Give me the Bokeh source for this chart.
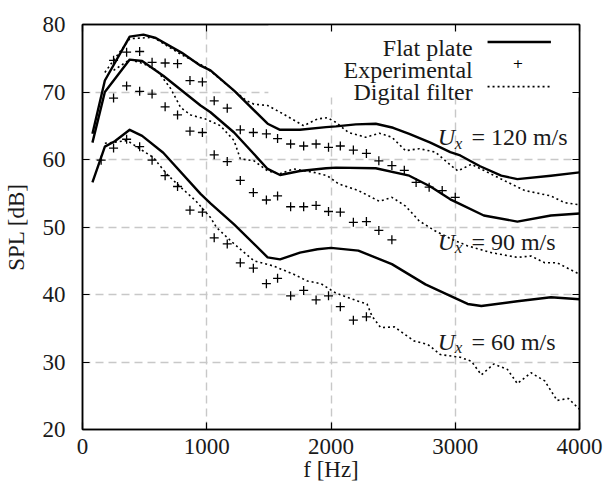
from bokeh.plotting import figure
from bokeh.models import FixedTicker, LinearAxis, Label, BoxAnnotation, Arrow, Range1d
from bokeh.embed import file_html
from bokeh.resources import INLINE

# ---------------- data ----------------
x_ticks = [0, 1000, 2000, 3000, 4000]
y_ticks = [20, 30, 40, 50, 60, 70, 80]

# Flat plate (solid)
fp_f_120 = [80, 180, 380, 490, 590, 800, 950, 1030, 1220, 1490, 1590, 1750, 1960, 2040, 2200, 2360, 2500, 2630, 2800, 2960, 3040, 3200, 3370, 3500, 3770, 4000]
fp_120 = [63.8, 71.7, 78.2, 78.5, 78.0, 75.8, 73.9, 73.2, 70.2, 65.3, 64.4, 64.4, 64.8, 64.9, 65.2, 65.3, 64.7, 63.8, 62.5, 61.1, 60.6, 59.0, 57.6, 57.1, 57.6, 58.1]
fp_f_90 = [80, 180, 380, 480, 650, 950, 1030, 1220, 1490, 1590, 1750, 1960, 2040, 2360, 2630, 2800, 2960, 3040, 3230, 3500, 3770, 4000]
fp_90 = [62.5, 70.0, 74.8, 74.6, 72.4, 68.0, 67.0, 64.0, 58.6, 57.7, 58.3, 58.7, 58.8, 58.7, 57.6, 56.0, 54.1, 53.4, 51.7, 50.8, 51.7, 52.0]
fp_f_60 = [80, 180, 260, 380, 480, 650, 950, 1030, 1220, 1490, 1590, 1750, 1890, 2000, 2220, 2490, 2760, 2960, 3100, 3210, 3500, 3770, 4000]
fp_60 = [56.6, 61.9, 62.7, 64.4, 63.5, 61.0, 54.9, 53.5, 50.4, 45.5, 45.2, 46.2, 46.7, 46.9, 46.5, 44.5, 41.5, 39.8, 38.6, 38.3, 39.0, 39.6, 39.3]

# Experimental (+)
exp_f_120 = [250, 355, 460, 560, 665, 765, 865, 965, 1060, 1165, 1270, 1375, 1480, 1570, 1675, 1780, 1880, 1980, 2075, 2180, 2285, 2385, 2490, 2590, 2685, 2790, 2895, 3000]
exp_120 = [74.7, 75.9, 76.0, 74.4, 74.3, 74.2, 71.7, 71.5, 68.7, 67.6, 64.4, 64.0, 63.8, 63.1, 62.3, 62.0, 62.3, 61.8, 62.0, 61.4, 60.9, 59.8, 59.1, 58.4, 56.6, 55.9, 55.4, 54.4]
exp_f_90 = [250, 355, 460, 560, 665, 765, 865, 965, 1060, 1165, 1270, 1375, 1480, 1570, 1675, 1780, 1880, 1980, 2075, 2180, 2285, 2385, 2490]
exp_90 = [69.1, 70.9, 70.1, 69.7, 67.8, 66.6, 64.2, 64.0, 60.7, 59.7, 56.9, 55.1, 54.0, 54.6, 53.0, 53.0, 53.2, 52.3, 52.2, 50.7, 50.8, 49.5, 48.1]
exp_f_60 = [150, 250, 355, 460, 560, 665, 765, 865, 965, 1060, 1165, 1270, 1375, 1480, 1570, 1675, 1780, 1880, 1980, 2075, 2180, 2285]
exp_60 = [59.9, 61.7, 63.0, 61.9, 59.9, 57.6, 56.0, 52.5, 52.2, 48.4, 47.5, 44.7, 43.9, 41.6, 42.4, 39.8, 40.6, 39.2, 39.8, 38.2, 36.2, 36.7]

# Digital filter (dotted)
df_f_120 = [180, 250, 380, 570, 790, 990, 1220, 1320, 1380, 1490, 1620, 1780, 1890, 1970, 2040, 2140, 2280, 2390, 2490, 2600, 2710, 2840, 2960, 3020, 3130, 3370, 3560, 3770, 3880, 4000]
df_120 = [72.9, 74.7, 77.9, 78.1, 75.6, 73.7, 70.2, 68.7, 68.2, 68.0, 66.7, 65.0, 66.0, 66.2, 65.5, 64.0, 63.3, 63.9, 63.3, 61.3, 61.6, 61.1, 59.2, 58.3, 59.3, 57.1, 55.4, 54.6, 53.6, 53.3]
df_f_90 = [250, 380, 490, 600, 710, 790, 870, 990, 1110, 1220, 1270, 1380, 1490, 1590, 1700, 1860, 1970, 2060, 2220, 2390, 2490, 2600, 2710, 2840, 2970, 3100, 3290, 3500, 3610, 3720, 3820, 4000]
df_90 = [73.2, 74.8, 74.2, 73.2, 70.5, 67.7, 66.6, 66.0, 65.0, 62.8, 60.1, 59.8, 58.3, 57.9, 58.6, 58.1, 57.6, 56.4, 55.4, 53.8, 54.4, 53.1, 50.9, 49.4, 48.2, 47.2, 46.2, 45.5, 45.7, 44.7, 44.7, 43.0]
df_f_60 = [180, 360, 460, 570, 680, 790, 910, 1030, 1080, 1220, 1380, 1540, 1700, 1810, 1920, 2040, 2220, 2290, 2330, 2400, 2510, 2670, 2780, 2880, 3040, 3130, 3210, 3310, 3420, 3500, 3610, 3720, 3820, 3910, 4000]
df_60 = [62.4, 62.8, 61.6, 60.3, 57.8, 55.9, 53.9, 51.4, 49.9, 47.5, 45.0, 44.2, 43.0, 42.0, 41.6, 40.2, 39.0, 38.6, 36.8, 35.1, 35.2, 33.1, 32.6, 31.1, 30.7, 30.1, 28.1, 29.7, 28.9, 26.8, 28.4, 27.2, 24.3, 24.6, 23.0]

legend_labels = ["Flat plate", "Experimental", "Digital filter"]
speed_labels = ["= 120 m/s", "= 90 m/s", "= 60 m/s"]

# ---------------- style ----------------
FONT = "Liberation Serif"
TXT = "#1a1a1a"
TICK_FS = "23px"
BIG_FS = "24px"

p = figure(width=608, height=487, x_range=Range1d(0, 4000), y_range=Range1d(20, 80),
           output_backend="svg", toolbar_location=None,
           min_border_left=82, min_border_right=29, min_border_top=24, min_border_bottom=58,
           background_fill_color="white", border_fill_color="white")
p.outline_line_color = "black"
p.outline_line_width = 1.5

p.xaxis.ticker = FixedTicker(ticks=x_ticks)
p.yaxis.ticker = FixedTicker(ticks=y_ticks)
for ax in (p.xaxis[0], p.yaxis[0]):
    ax.major_label_text_font = FONT
    ax.major_label_text_font_size = TICK_FS
    ax.major_label_text_color = TXT
    ax.major_tick_in = 7
    ax.major_tick_out = 0
    ax.minor_tick_line_color = None
    ax.major_tick_line_color = "black"
    ax.major_tick_line_width = 1.2
    ax.axis_line_color = "black"
    ax.axis_line_width = 1.5
    ax.axis_label_text_font = FONT
    ax.axis_label_text_font_size = TICK_FS
    ax.axis_label_text_font_style = "normal"
    ax.axis_label_text_color = TXT
p.xaxis.major_label_standoff = 9
p.xaxis.axis_label = "f [Hz]"
p.xaxis.axis_label_standoff = 0
p.yaxis.major_label_standoff = 17
p.yaxis.axis_label = "SPL [dB]"
p.yaxis.axis_label_standoff = 11

for place, ticks in (("right", y_ticks), ("above", x_ticks)):
    ax = LinearAxis(ticker=FixedTicker(ticks=ticks),
                    major_label_overrides={t: "" for t in ticks},
                    major_tick_in=7, major_tick_out=0, minor_tick_line_color=None,
                    major_tick_line_color="black", major_tick_line_width=1.2,
                    axis_line_color="black", axis_line_width=1.5, major_label_standoff=0)
    p.add_layout(ax, place)

p.xgrid.ticker = FixedTicker(ticks=[1000, 2000, 3000])
p.ygrid.ticker = FixedTicker(ticks=[30, 40, 50, 60, 70])
for g in (p.xgrid[0], p.ygrid[0]):
    g.grid_line_color = "#c8c8c8"
    g.grid_line_dash = "8 5"
    g.grid_line_width = 1.4

# legend background (hides grid)
p.add_layout(BoxAnnotation(left=1496, right=3995, bottom=69.2, top=79.9,
                           fill_color="white", fill_alpha=1.0, line_color=None, level="underlay"))

# ---------------- data marks ----------------
for fx, fy in ((fp_f_120, fp_120), (fp_f_90, fp_90), (fp_f_60, fp_60)):
    p.line(fx, fy, line_color="black", line_width=2.4, line_join="round")
for fx, fy in ((df_f_120, df_120), (df_f_90, df_90), (df_f_60, df_60)):
    p.line(fx, fy, line_color="black", line_width=1.6, line_dash="2 3")
for fx, fy in ((exp_f_120, exp_120), (exp_f_90, exp_90), (exp_f_60, exp_60)):
    p.scatter(fx, fy, marker="cross", size=9, line_color="black", line_width=1.3)

# ---------------- legend (text left of sample) ----------------
leg_text_x = 3141
leg_base_y = [76.55, 73.2, 69.95]
for txt, yy in zip(legend_labels, leg_base_y):
    p.add_layout(Label(x=leg_text_x, y=yy, text=txt, text_align="right", text_baseline="alphabetic",
                       text_font=FONT, text_font_size=BIG_FS, text_color=TXT))
p.add_layout(Arrow(end=None, x_start=3260, x_end=3770, y_start=77.4, y_end=77.4,
                   line_color="black", line_width=2.4))
p.add_layout(Label(x=3504, y=74.2, text="+", text_align="center", text_baseline="middle",
                   text_font="DejaVu Sans", text_font_size="13px", text_color="black"))
p.add_layout(Arrow(end=None, x_start=3260, x_end=3760, y_start=70.8, y_end=70.8,
                   line_color="black", line_width=1.6, line_dash="2 3"))

# ---------------- speed labels ----------------
speed_base_y = [63.28, 47.85, 33.0]
for txt, yy in zip(speed_labels, speed_base_y):
    p.add_layout(Label(x=2859, y=yy, text="U", text_align="left", text_baseline="alphabetic",
                       text_font=FONT, text_font_size=BIG_FS, text_font_style="italic", text_color=TXT))
    p.add_layout(Label(x=2996, y=yy - 0.9, text="x", text_align="left", text_baseline="alphabetic",
                       text_font=FONT, text_font_size="17px", text_font_style="italic", text_color=TXT))
    p.add_layout(Label(x=3130, y=yy, text=txt, text_align="left", text_baseline="alphabetic",
                       text_font=FONT, text_font_size=BIG_FS, text_color=TXT))

open("out.html", "w").write(file_html(p, INLINE))
